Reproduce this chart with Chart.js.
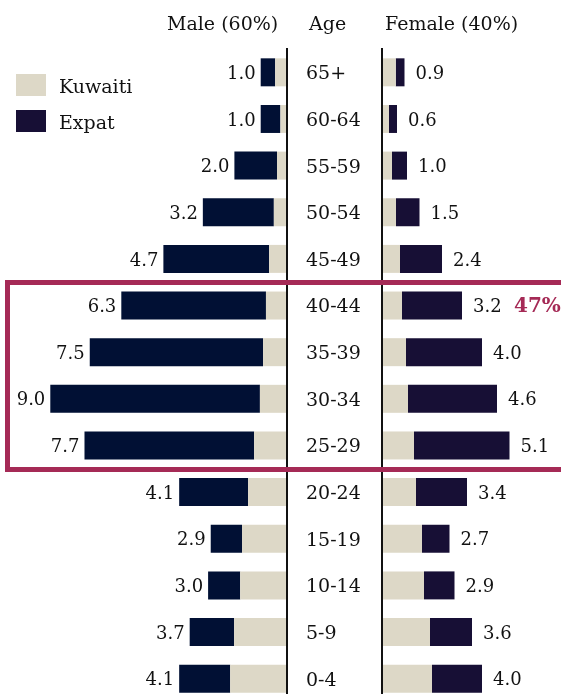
<!DOCTYPE html>
<html>
<head>
<meta charset="utf-8">
<script src="https://cdn.jsdelivr.net/npm/chart.js@4/dist/chart.umd.min.js"></script>
<style>
    html, body { margin: 0; padding: 0; overflow: hidden; background: #fff; }
    body { width: 561px; height: 694px; position: relative; font-family: 'DejaVu Serif', serif; color: #111; }
    canvas { position: absolute; top: 0; }
    #maleChart { left: 0; }
    #femaleChart { left: 300px; }
    .txt { position: absolute; font-size: 19px; line-height: 19px; white-space: nowrap; }
    .swatch { position: absolute; left: 16px; width: 30px; height: 22px; }
    #highlight { position: absolute; left: 5px; top: 280px; width: 600px; height: 192px; box-sizing: border-box; border: 5px solid #a52a56; z-index: 2; }
    #share { color: #a52a56; font-weight: bold; font-size: 20px; z-index: 3; }
</style>
</head>
<body>
<canvas id="maleChart" width="288" height="702"></canvas>
<canvas id="femaleChart" width="261" height="702"></canvas>

<div class="txt" style="left:167px; top:14px;">Male (60%)</div>
<div class="txt" style="left:309px; top:14px;">Age</div>
<div class="txt" style="left:385px; top:14px;">Female (40%)</div>

<div class="swatch" style="top:74px; background:#ddd8c7;"></div>
<div class="txt" style="left:59px; top:77px;">Kuwaiti</div>
<div class="swatch" style="top:110px; background:#170f35;"></div>
<div class="txt" style="left:59px; top:113px;">Expat</div>

<div id="highlight"></div>
<div class="txt" id="share" style="left:514px; top:296px;">47%</div>

<script>
// age groups, oldest at the top
const ageGroups = ['65+', '60-64', '55-59', '50-54', '45-49', '40-44', '35-39',
    '30-34', '25-29', '20-24', '15-19', '10-14', '5-9', '0-4'];

// share of total population (%)
const maleTotal     = [1.0, 1.0, 2.0, 3.2, 4.7, 6.3, 7.5, 9.0, 7.7, 4.1, 2.9, 3.0, 3.7, 4.1];
const maleKuwaiti   = [0.45, 0.25, 0.38, 0.5, 0.68, 0.8, 0.91, 1.03, 1.25, 1.48, 1.71, 1.78, 2.01, 2.16];
const maleExpat     = [0.55, 0.75, 1.62, 2.7, 4.02, 5.5, 6.59, 7.97, 6.45, 2.62, 1.19, 1.22, 1.69, 1.94];

const femaleTotal   = [0.9, 0.6, 1.0, 1.5, 2.4, 3.2, 4.0, 4.6, 5.1, 3.4, 2.7, 2.9, 3.6, 4.0];
const femaleKuwaiti = [0.55, 0.28, 0.4, 0.56, 0.72, 0.8, 0.96, 1.04, 1.28, 1.36, 1.6, 1.68, 1.92, 2.0];
const femaleExpat   = [0.35, 0.32, 0.6, 0.94, 1.68, 2.4, 3.04, 3.56, 3.82, 2.04, 1.1, 1.22, 1.68, 2.0];

const kuwaitiColor = '#ddd8c7';
const maleExpatColor = '#011034';
const femaleExpatColor = '#170f35';
const fontFamily = "'DejaVu Serif', serif";

// total value next to the end of each stacked bar
const valueLabels = {
    id: 'valueLabels',
    afterDatasetsDraw(chart, args, opts) {
        const ctx = chart.ctx;
        const meta = chart.getDatasetMeta(chart.data.datasets.length - 1);
        ctx.save();
        ctx.font = '18px ' + fontFamily;
        ctx.fillStyle = '#111';
        ctx.textBaseline = 'middle';
        ctx.textAlign = opts.side === 'left' ? 'right' : 'left';
        meta.data.forEach((bar, i) => {
            const x = opts.side === 'left' ? bar.x - 5 : bar.x + 11;
            ctx.fillText(opts.values[i].toFixed(1), x, bar.y + 2);
        });
        ctx.restore();
    }
};

function barDatasets(kuwaiti, expat, expatColor) {
    return [
        { label: 'Kuwaiti', data: kuwaiti, backgroundColor: kuwaitiColor },
        { label: 'Expat', data: expat, backgroundColor: expatColor }
    ];
}

const sharedDataset = { bar: { barPercentage: 0.6, categoryPercentage: 1, borderWidth: 0 } };

new Chart(document.getElementById('maleChart'), {
    type: 'bar',
    data: { labels: ageGroups, datasets: barDatasets(maleKuwaiti, maleExpat, maleExpatColor) },
    options: {
        responsive: false,
        animation: false,
        indexAxis: 'y',
        layout: { padding: { left: 24, right: 1, top: 49, bottom: 0 } },
        datasets: sharedDataset,
        plugins: {
            legend: { display: false },
            tooltip: { enabled: false },
            valueLabels: { side: 'left', values: maleTotal }
        },
        scales: {
            x: { reverse: true, min: 0, max: 10, stacked: true, display: false },
            y: {
                position: 'right',
                stacked: true,
                ticks: { display: false },
                grid: { display: false, drawTicks: false },
                border: { display: true, color: '#111', width: 2, z: 1 },
                afterFit: (scale) => { scale.width = 0; }
            }
        }
    },
    plugins: [valueLabels]
});

new Chart(document.getElementById('femaleChart'), {
    type: 'bar',
    data: { labels: ageGroups, datasets: barDatasets(femaleKuwaiti, femaleExpat, femaleExpatColor) },
    options: {
        responsive: false,
        animation: false,
        indexAxis: 'y',
        layout: { padding: { left: 6, right: 4, top: 49, bottom: 0 } },
        datasets: sharedDataset,
        plugins: {
            legend: { display: false },
            tooltip: { enabled: false },
            valueLabels: { side: 'right', values: femaleTotal }
        },
        scales: {
            x: { min: 0, max: 7, stacked: true, display: false },
            y: {
                position: 'left',
                stacked: true,
                ticks: { crossAlign: 'far', padding: 0, labelOffset: 2, color: '#111', font: { family: fontFamily, size: 19 } },
                grid: { display: false, drawTicks: false },
                border: { display: true, color: '#111', width: 2, z: 1 },
                afterFit: (scale) => {
                    // keep the same rows as the male side
                    scale.width = 76;
                    scale.paddingTop = 0;
                    scale.paddingBottom = 0;
                }
            }
        }
    },
    plugins: [valueLabels]
});
</script>
</body>
</html>
